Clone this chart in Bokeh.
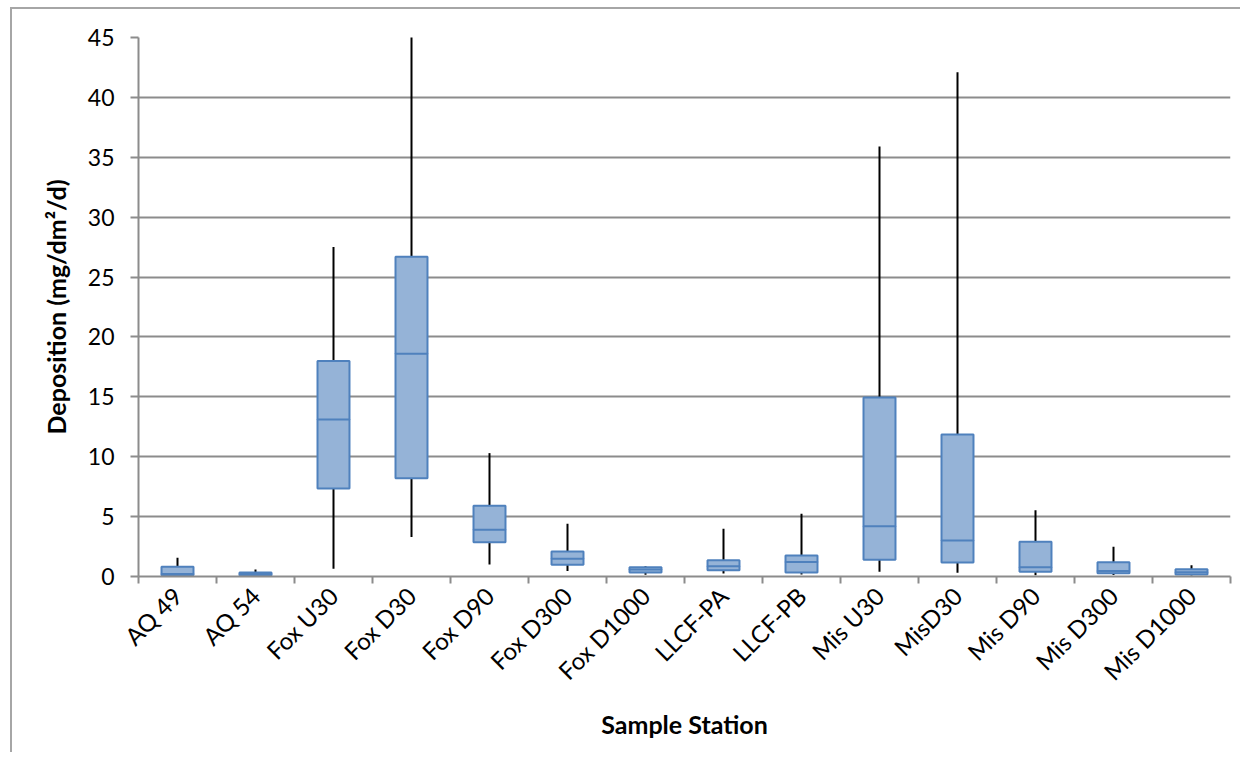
import math
from bokeh.plotting import figure
from bokeh.models import ColumnDataSource, FixedTicker, Range1d
from bokeh.embed import file_html
from bokeh.resources import INLINE

stations = ["AQ 49", "AQ 54", "Fox U30", "Fox D30", "Fox D90", "Fox D300", "Fox D1000",
            "LLCF-PA", "LLCF-PB", "Mis U30", "MisD30", "Mis D90", "Mis D300", "Mis D1000"]
whisker_low = [0.05, 0.02, 0.65, 3.3, 1.0, 0.45, 0.14, 0.25, 0.17, 0.39, 0.31, 0.11, 0.12, 0.08]
q1 = [0.11, 0.08, 7.35, 8.2, 2.85, 0.98, 0.33, 0.53, 0.33, 1.39, 1.17, 0.39, 0.28, 0.17]
median = [0.2, 0.2, 13.1, 18.6, 3.9, 1.48, 0.58, 0.86, 1.22, 4.2, 3.0, 0.78, 0.45, 0.35]
q3 = [0.81, 0.33, 18.0, 26.7, 5.9, 2.09, 0.78, 1.36, 1.75, 14.95, 11.85, 2.9, 1.2, 0.61]
whisker_high = [1.56, 0.58, 27.5, 46.0, 10.3, 4.4, 0.86, 3.98, 5.23, 35.9, 42.1, 5.53, 2.48, 0.94]
y_ticks = [0, 5, 10, 15, 20, 25, 30, 35, 40, 45]

n = len(stations)
centers = [i + 0.5 for i in range(n)]
bounds = [i for i in range(n + 1)]

src = ColumnDataSource(dict(x=centers, lo=whisker_low, q1=q1, med=median, q3=q3, hi=whisker_high))

FONT = "Lato"
p = figure(width=1230, height=745, output_backend="svg", toolbar_location=None,
           x_range=Range1d(0, n), y_range=Range1d(0, 45),
           min_border_left=126, min_border_top=28, min_border_right=12, min_border_bottom=178)

p.styles = {"border-left": "2px solid #a6a6a6", "border-top": "2px solid #a6a6a6",
            "margin-left": "10px", "margin-top": "7px"}

# whiskers
p.segment(x0="x", y0="lo", x1="x", y1="q1", source=src, line_color="black", line_width=2)
p.segment(x0="x", y0="q3", x1="x", y1="hi", source=src, line_color="black", line_width=2)
# boxes
p.vbar(x="x", width=0.41, bottom="q1", top="q3", source=src,
       fill_color="#95B3D7", line_color="#4F81BD", line_width=2)
# medians
p.rect(x="x", y="med", width=0.41, height=0.0001, source=src,
       fill_alpha=0, line_color="#4F81BD", line_width=2)

# axes
p.xaxis.ticker = FixedTicker(ticks=centers, minor_ticks=bounds)
p.xaxis.major_label_overrides = {c: s for c, s in zip(centers, stations)}
p.xaxis.major_tick_line_color = None
p.xaxis.minor_tick_line_color = "#8c8c8c"
p.xaxis.minor_tick_line_width = 2
p.xaxis.minor_tick_out = 7
p.xaxis.minor_tick_in = 0
p.xaxis.major_label_orientation = math.pi / 4
p.xaxis.major_label_text_font = FONT
p.xaxis.major_label_text_font_size = "24px"
p.xaxis.major_label_text_color = "black"
p.xaxis.major_label_standoff = 8
p.xaxis.axis_line_color = "#8c8c8c"
p.xaxis.axis_line_width = 2
p.xaxis.axis_label = "Sample Station"
p.xaxis.axis_label_text_font = FONT
p.xaxis.axis_label_text_font_style = "bold"
p.xaxis.axis_label_text_font_size = "25px"
p.xaxis.axis_label_text_color = "black"
p.xaxis.axis_label_standoff = 10

p.yaxis.ticker = FixedTicker(ticks=y_ticks)
p.yaxis.minor_tick_line_color = None
p.yaxis.major_tick_line_color = "#8c8c8c"
p.yaxis.major_tick_line_width = 2
p.yaxis.major_tick_out = 8
p.yaxis.major_tick_in = 0
p.yaxis.axis_line_color = "#8c8c8c"
p.yaxis.axis_line_width = 2
p.yaxis.major_label_text_font = FONT
p.yaxis.major_label_text_font_size = "23px"
p.yaxis.major_label_text_color = "black"
p.yaxis.major_label_standoff = 16
p.yaxis.axis_label = "Deposition (mg/dm²/d)"
p.yaxis.axis_label_text_font = FONT
p.yaxis.axis_label_text_font_style = "bold"
p.yaxis.axis_label_text_font_size = "25px"
p.yaxis.axis_label_text_color = "black"
p.yaxis.axis_label_standoff = 14

p.xgrid.grid_line_color = None
p.ygrid.ticker = FixedTicker(ticks=y_ticks)
p.ygrid.grid_line_color = "#8c8c8c"
p.ygrid.grid_line_width = 2
p.outline_line_color = None

open("out.html", "w").write(file_html(p, INLINE))
